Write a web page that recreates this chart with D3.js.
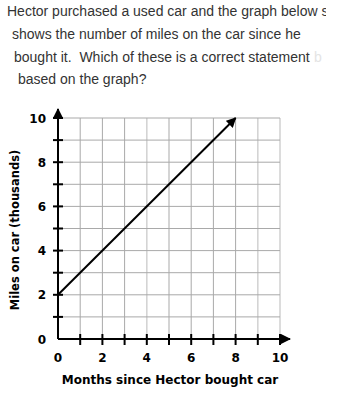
<!DOCTYPE html>
<html>
<head>
<meta charset="utf-8">
<script src="https://cdn.jsdelivr.net/npm/d3@7"></script>
<style>
  body { margin: 0; background: #fff; }
  text { white-space: pre; }
</style>
</head>
<body>
<svg id="chart"></svg>
<script>
var width = 356;
var height = 399;

// question text lines (with their left indents as shown)
var questionLines = [
  "Hector purchased a used car and the graph below s",
  "shows the number of miles on the car since he",
  "bought it.  Which of these is a correct statement",
  "based on the graph?"
];
var questionIndent = [7, 12, 14, 18];

var xTickLabels = [0, 2, 4, 6, 8, 10];
var yTickLabels = [0, 2, 4, 6, 8, 10];
var gridValues = [1, 2, 3, 4, 5, 6, 7, 8, 9, 10];
var lightGrid = [4, 9, 10];

var lineMonths = [0, 8];
var lineMiles = [2, 10];

var xScale = d3.scaleLinear().domain([0, 10]).range([58, 280]);
var yScale = d3.scaleLinear().domain([0, 10]).range([339, 118]);

var svg = d3.select("#chart")
  .attr("width", width)
  .attr("height", height);

svg.append("defs").append("clipPath")
    .attr("id", "textclip")
  .append("rect")
    .attr("x", 0).attr("y", 0)
    .attr("width", 326).attr("height", 100);

var q = svg.append("g")
    .attr("clip-path", "url(#textclip)");

q.selectAll("text")
  .data(questionLines)
  .enter().append("text")
    .attr("x", function(d, i) { return questionIndent[i]; })
    .attr("y", function(d, i) { return 16 + i * 22.8; })
    .attr("font-family", "Arial, 'Liberation Sans', sans-serif")
    .attr("font-size", "14px")
    .attr("fill", "#333")
    .text(function(d) { return d; });

// faded cut-off letter at end of third line
q.append("text")
    .attr("x", 314)
    .attr("y", 16 + 2 * 22.8)
    .attr("font-family", "Arial, 'Liberation Sans', sans-serif")
    .attr("font-size", "14px")
    .attr("fill", "#e4e4e4")
    .text("b");

// grid
svg.append("g").selectAll("line")
  .data(gridValues)
  .enter().append("line")
    .attr("x1", function(d) { return xScale(d); })
    .attr("x2", function(d) { return xScale(d); })
    .attr("y1", yScale(10))
    .attr("y2", yScale(0))
    .attr("stroke", function(d) { return lightGrid.indexOf(d) >= 0 ? "#d4d4d4" : "#a9a9a9"; })
    .attr("stroke-width", function(d) { return lightGrid.indexOf(d) >= 0 ? 1.6 : 1; });

svg.append("g").selectAll("line")
  .data(gridValues)
  .enter().append("line")
    .attr("x1", xScale(0))
    .attr("x2", xScale(10))
    .attr("y1", function(d) { return yScale(d); })
    .attr("y2", function(d) { return yScale(d); })
    .attr("stroke", "#a9a9a9")
    .attr("stroke-width", 1);

var defs = svg.select("defs");
defs.append("marker")
    .attr("id", "arrow")
    .attr("viewBox", "0 0 10 10")
    .attr("refX", 9)
    .attr("refY", 5)
    .attr("markerWidth", 5)
    .attr("markerHeight", 5)
    .attr("markerUnits", "strokeWidth")
    .attr("orient", "auto")
  .append("path")
    .attr("d", "M0,0 L10,5 L0,10 Z")
    .attr("fill", "#000");

// axes
svg.append("line")
    .attr("x1", xScale(0)).attr("x2", xScale(0))
    .attr("y1", yScale(0)).attr("y2", 109)
    .attr("stroke", "#000").attr("stroke-width", 2)
    .attr("marker-end", "url(#arrow)");

svg.append("line")
    .attr("x1", xScale(0)).attr("x2", 290)
    .attr("y1", yScale(0)).attr("y2", yScale(0))
    .attr("stroke", "#000").attr("stroke-width", 2)
    .attr("marker-end", "url(#arrow)");

// tick marks
svg.append("g").selectAll("line")
  .data(gridValues)
  .enter().append("line")
    .attr("x1", xScale(0) - 5).attr("x2", xScale(0) + 5)
    .attr("y1", function(d) { return yScale(d); })
    .attr("y2", function(d) { return yScale(d); })
    .attr("stroke", "#000").attr("stroke-width", 2);

svg.append("g").selectAll("line")
  .data(gridValues)
  .enter().append("line")
    .attr("y1", yScale(0) - 5).attr("y2", yScale(0) + 6)
    .attr("x1", function(d) { return xScale(d); })
    .attr("x2", function(d) { return xScale(d); })
    .attr("stroke", "#000").attr("stroke-width", 2);

// tick labels
var labelFont = "Verdana, 'DejaVu Sans', sans-serif";
svg.append("g").selectAll("text")
  .data(yTickLabels)
  .enter().append("text")
    .attr("x", 46)
    .attr("y", function(d) { return yScale(d) + 4.5; })
    .attr("text-anchor", "end")
    .attr("font-family", labelFont)
    .attr("font-weight", "bold")
    .attr("font-size", "12px")
    .text(function(d) { return d; });

svg.append("g").selectAll("text")
  .data(xTickLabels)
  .enter().append("text")
    .attr("x", function(d) { return xScale(d); })
    .attr("y", 362)
    .attr("text-anchor", "middle")
    .attr("font-family", labelFont)
    .attr("font-weight", "bold")
    .attr("font-size", "12px")
    .text(function(d) { return d; });

// axis titles
svg.append("text")
    .attr("x", 170)
    .attr("y", 384)
    .attr("text-anchor", "middle")
    .attr("font-family", labelFont)
    .attr("font-weight", "bold")
    .attr("font-size", "12px")
    .text("Months since Hector bought car");

svg.append("text")
    .attr("transform", "translate(19,230) rotate(-90)")
    .attr("text-anchor", "middle")
    .attr("font-family", labelFont)
    .attr("font-weight", "bold")
    .attr("font-size", "11.5px")
    .text("Miles on car (thousands)");

// the data line
var line = d3.line()
  .x(function(d) { return xScale(d[0]); })
  .y(function(d) { return yScale(d[1]); });

svg.append("path")
    .datum(d3.zip(lineMonths, lineMiles))
    .attr("d", line)
    .attr("fill", "none")
    .attr("stroke", "#000")
    .attr("stroke-width", 2)
    .attr("marker-end", "url(#arrow)");
</script>
</body>
</html>
